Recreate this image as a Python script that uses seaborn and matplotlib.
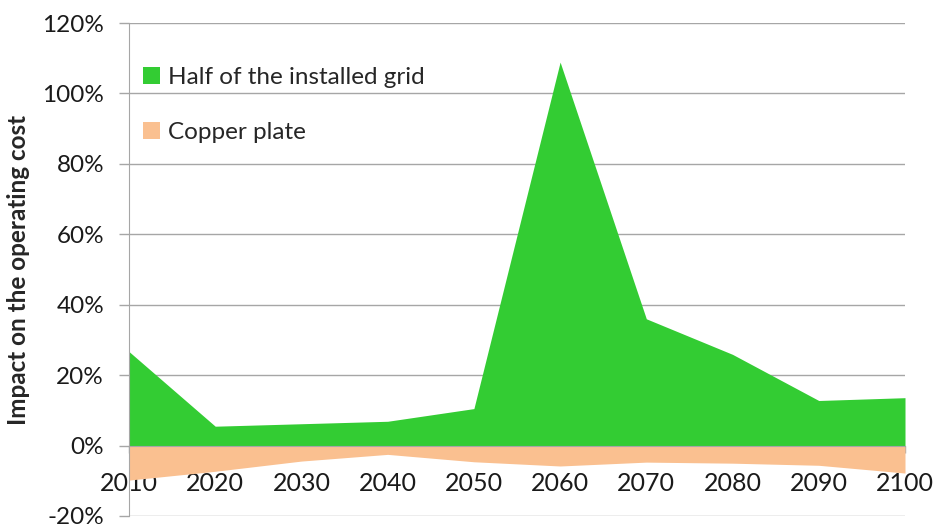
import numpy as np
import pandas as pd
import seaborn as sns
import matplotlib.pyplot as plt
from matplotlib.ticker import FuncFormatter

years = [2010, 2020, 2030, 2040, 2050, 2060, 2070, 2080, 2090, 2100]
half_grid = [26.7, 5.5, 6.2, 6.9, 10.5, 108.9, 36.0, 25.9, 12.8, 13.6]
copper_plate = [-9.8, -7.3, -4.4, -2.5, -4.6, -5.8, -4.7, -5.0, -5.6, -7.8]
series_names = ["Half of the installed grid", "Copper plate"]
series_colors = ["#33CC33", "#FAC090"]
y_ticks = [-20, 0, 20, 40, 60, 80, 100, 120]

df = pd.DataFrame({"year": years, series_names[0]: half_grid, series_names[1]: copper_plate})

sns.set_style("white")
plt.rcParams["font.family"] = ["Lato", "DejaVu Sans"]

fig = plt.figure(figsize=(9.35, 5.24), dpi=100)
ax = fig.add_axes([129 / 935, 8 / 524, 776 / 935, 493 / 524])

for name, color in zip(series_names, series_colors):
    sns.lineplot(data=df, x="year", y=name, ax=ax, color=color, linewidth=0, legend=False)
    ax.fill_between(df["year"], 0, df[name], color=color, linewidth=0, label=name)

ax.set_xlim(2010, 2100)
ax.set_ylim(-20, 120)
ax.set_xticks(years)
ax.set_yticks(y_ticks)
ax.yaxis.set_major_formatter(FuncFormatter(lambda v, p: f"{v:.0f}%"))

ax.grid(axis="y", color="#A6A6A6", linewidth=1)
ax.set_axisbelow(True)
for s in ["top", "right"]:
    ax.spines[s].set_visible(False)
ax.spines["bottom"].set_position(("data", 0))
ax.spines["bottom"].set_color("#A6A6A6")
ax.spines["bottom"].set_zorder(5)
ax.spines["left"].set_color("#A6A6A6")

ax.tick_params(axis="y", which="major", direction="out", length=7, width=1,
               color="#A6A6A6", pad=11, labelsize=17.5, labelcolor="#1a1a1a", left=True)
ax.tick_params(axis="x", which="major", direction="out", length=5, width=1,
               color="#A6A6A6", pad=14, labelsize=18, labelcolor="#1a1a1a", bottom=True)
for lbl in ax.get_xticklabels():
    lbl.set_zorder(6)

ax.set_xlabel("")
ax.set_ylabel("Impact on the operating cost", fontsize=17.5, fontweight="bold")
ax.yaxis.set_label_coords(-0.128, 0.5)

ax.legend(loc="upper left", bbox_to_anchor=(0.005, 0.93), frameon=False, fontsize=17.5,
          handlelength=0.7, handleheight=0.7, handletextpad=0.35, labelspacing=1.4,
          borderaxespad=0)

fig.savefig("out.png", dpi=100)
